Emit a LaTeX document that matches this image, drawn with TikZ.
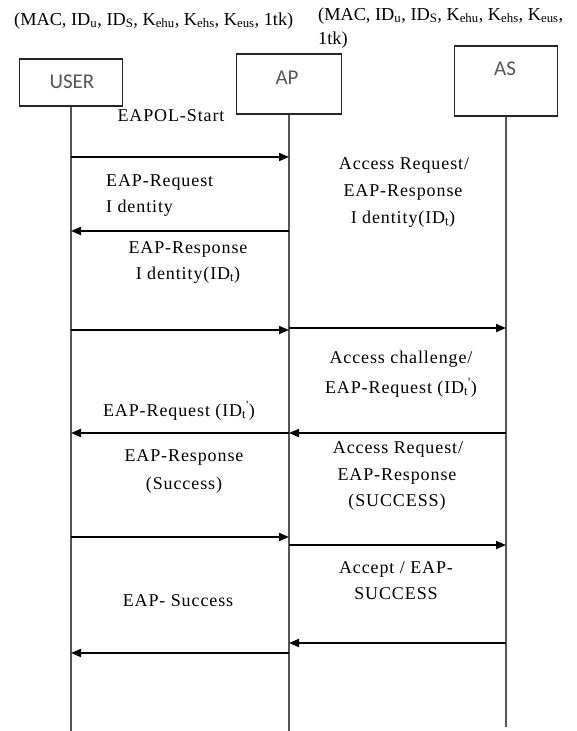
\documentclass[tikz,border=0pt]{standalone}
\usepackage{fontspec}
\setmainfont{Liberation Serif}
\newfontfamily\msgfont[LetterSpace=5]{Liberation Serif}
\newfontfamily\actorfont{Carlito}
\usetikzlibrary{arrows.meta}
\definecolor{lifegray}{RGB}{85,85,85}
\definecolor{namegray}{RGB}{85,85,85}
\begin{document}
\begin{tikzpicture}[x=1pt,y=-1pt,
  actor/.style={draw=black!85, line width=1.3pt, inner sep=0pt},
  actorname/.style={font=\actorfont\fontsize{21}{24}\selectfont, text=namegray, inner sep=0pt},
  lifeline/.style={draw=lifegray, line width=1.4pt},
  msg/.style={draw=black, line width=1.8pt, -{Triangle[length=10pt,width=8pt]}},
  lbl/.style={font=\msgfont\fontsize{18}{22}\selectfont, inner sep=0pt, anchor=base},
  lblw/.style={lbl, anchor=base west},
  hdr/.style={font=\fontsize{18.3}{22}\selectfont, inner sep=0pt, anchor=base west}]
\useasboundingbox (0,0) rectangle (577,731);

% key material held by each party
\node[hdr] (hdrL) at (14,25) {(MAC, ID\textsubscript{u}, ID\textsubscript{S}, K\textsubscript{ehu}, K\textsubscript{ehs}, K\textsubscript{eus}, 1tk)};
\node[hdr] (hdrR1) at (318,20) {(MAC, ID\textsubscript{u}, ID\textsubscript{S}, K\textsubscript{ehu}, K\textsubscript{ehs}, K\textsubscript{eus},};
\node[hdr] (hdrR2) at (318,44) {1tk)};

% participants
\node[actor, minimum width=103, minimum height=47] (user) at (71,82.5) {};
\node[actorname] (userName) at (72,82) {USER};
\node[actor, minimum width=105, minimum height=60] (ap) at (289,84) {};
\node[actorname] (apName) at (287,78) {AP};
\node[actor, minimum width=103, minimum height=70] (as) at (506,81) {};
\node[actorname] (asName) at (505,69) {AS};

% lifelines
\coordinate (userEnd) at (71,731);
\coordinate (apEnd) at (289,731);
\coordinate (asEnd) at (506,727);
\draw[lifeline] (user.south) -- (userEnd);
\draw[lifeline] (ap.south) -- (apEnd);
\draw[lifeline] (as.south) -- (asEnd);

% message anchor points on the lifelines
\foreach \n/\y in {1/157,2/231,3/330,4/433,5/537,6/653} {
  \coordinate (u\n) at (71,\y);
}
\foreach \n/\y in {1/157,2/231,3/330,4/433,5/537,6/653} {
  \coordinate (p\n) at (289,\y);
}
\coordinate (q3) at (289,328);
\coordinate (s3) at (506,328);
\coordinate (q4) at (289,433);
\coordinate (s4) at (506,433);
\coordinate (q5) at (289,545);
\coordinate (s5) at (506,545);
\coordinate (q6) at (289,643);
\coordinate (s6) at (506,643);

% messages
\draw[msg] (u1) -- (p1);
\draw[msg] (p2) -- (u2);
\draw[msg] (u3) -- (p3);
\draw[msg] (q3) -- (s3);
\draw[msg] (s4) -- (q4);
\draw[msg] (p4) -- (u4);
\draw[msg] (u5) -- (p5);
\draw[msg] (q5) -- (s5);
\draw[msg] (s6) -- (q6);
\draw[msg] (p6) -- (u6);

% USER <-> AP labels
\node[lbl] (m1) at (171,121) {EAPOL-Start};
\node[lblw] (m2a) at (106,186) {EAP-Request};
\node[lblw] (m2b) at (106,212) {I dentity};
\node[lbl] (m3a) at (188,253) {EAP-Response};
\node[lbl] (m3b) at (188,279) {I dentity(ID\textsubscript{t})};
\node[lbl] (m4) at (179,416) {EAP-Request (ID\textsubscript{t}\textsuperscript{'})};
\node[lbl] (m5a) at (184,461) {EAP-Response};
\node[lbl] (m5b) at (184,489) {(Success)};
\node[lbl] (m6) at (178,606) {EAP- Success};

% AP <-> AS labels
\node[lbl] (n3a) at (404,169) {Access Request/};
\node[lbl] (n3b) at (403,196) {EAP-Response};
\node[lbl] (n3c) at (403,223) {I dentity(ID\textsubscript{t})};
\node[lbl] (n4a) at (401,363) {Access challenge/};
\node[lbl] (n4b) at (401,393) {EAP-Request (ID\textsubscript{t}\textsuperscript{'})};
\node[lbl] (n5a) at (398,453) {Access Request/};
\node[lbl] (n5b) at (397,480) {EAP-Response};
\node[lbl] (n5c) at (397,506) {(SUCCESS)};
\node[lbl] (n6a) at (396,573) {Accept / EAP-};
\node[lbl] (n6b) at (396,599) {SUCCESS};
\end{tikzpicture}
\end{document}
